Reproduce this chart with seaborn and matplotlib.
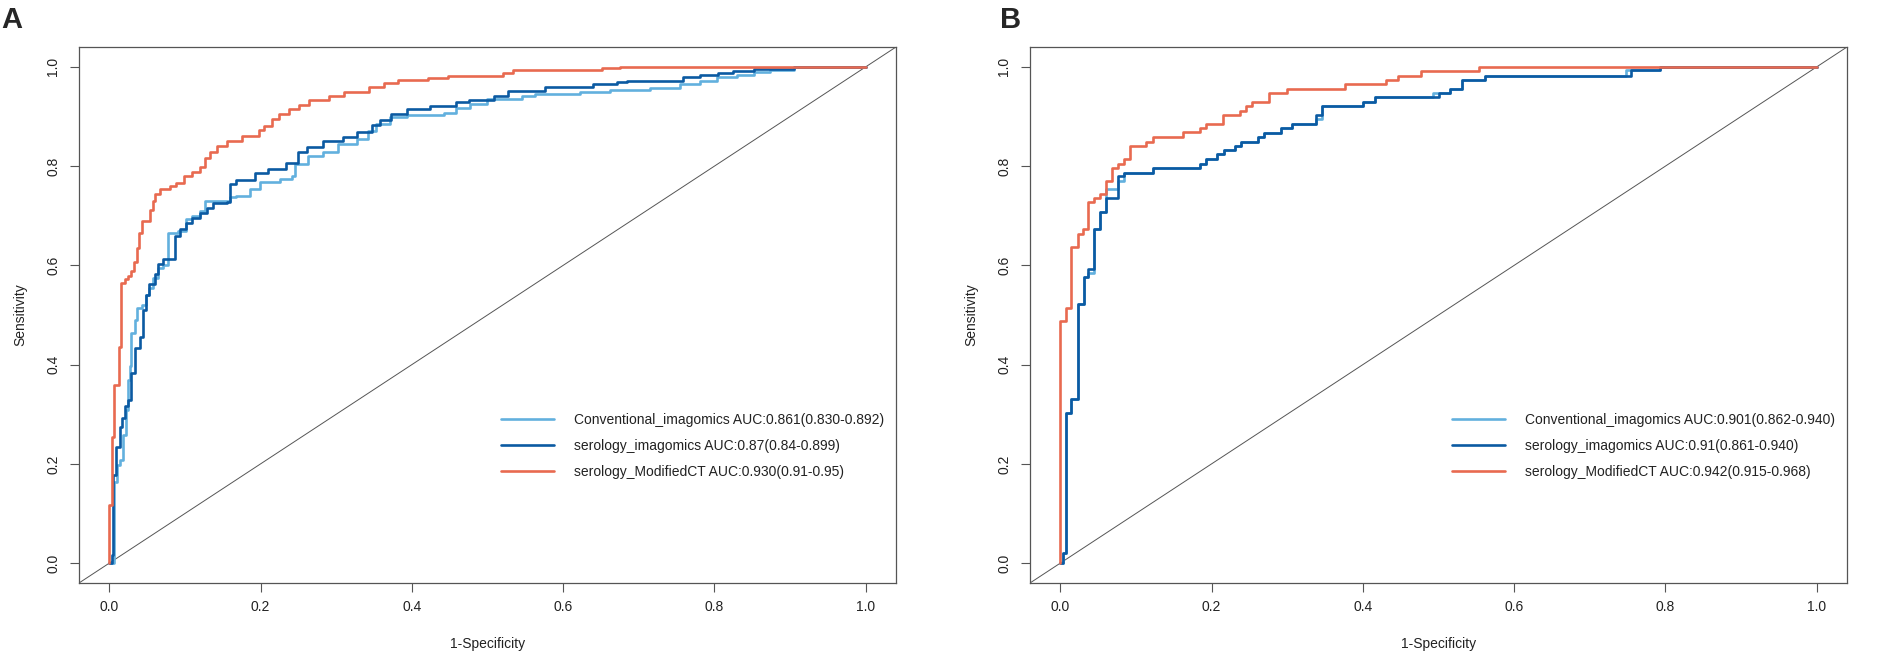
import numpy as np
import pandas as pd
import matplotlib
matplotlib.use("Agg")
import matplotlib.pyplot as plt
import seaborn as sns

# Series names and legend labels
series_names = ["Conventional_imagomics", "serology_imagomics", "serology_ModifiedCT"]
labels_a = ["Conventional_imagomics AUC:0.861(0.830-0.892)",
            "serology_imagomics AUC:0.87(0.84-0.899)",
            "serology_ModifiedCT AUC:0.930(0.91-0.95)"]
labels_b = ["Conventional_imagomics AUC:0.901(0.862-0.940)",
            "serology_imagomics AUC:0.91(0.861-0.940)",
            "serology_ModifiedCT AUC:0.942(0.915-0.968)"]

# Panel A - staircase vertices (1-specificity, sensitivity)
a_conv_fpr = [0, 0.006, 0.010, 0.014, 0.018, 0.022, 0.025, 0.027, 0.029, 0.034,
              0.037, 0.043, 0.048, 0.053, 0.058, 0.065, 0.071, 0.078, 0.091, 0.102,
              0.110, 0.120, 0.126, 0.159, 0.168, 0.186, 0.199, 0.226, 0.241, 0.245,
              0.263, 0.283, 0.303, 0.327, 0.342, 0.353, 0.371, 0.393, 0.442, 0.459,
              0.477, 0.499, 0.545, 0.563, 0.622, 0.662, 0.715, 0.755, 0.781, 0.803,
              0.830, 0.852, 0.874, 0.905, 1.0]
a_conv_tpr = [0, 0.164, 0.198, 0.208, 0.259, 0.309, 0.370, 0.397, 0.464, 0.490,
              0.514, 0.520, 0.540, 0.555, 0.575, 0.595, 0.600, 0.666, 0.670, 0.694,
              0.700, 0.710, 0.730, 0.737, 0.740, 0.754, 0.768, 0.774, 0.780, 0.804,
              0.821, 0.828, 0.844, 0.855, 0.871, 0.885, 0.898, 0.903, 0.908, 0.918,
              0.925, 0.935, 0.942, 0.945, 0.950, 0.953, 0.957, 0.966, 0.972, 0.979,
              0.984, 0.989, 0.993, 1.0, 1.0]

a_sero_fpr = [0, 0.003, 0.005, 0.009, 0.014, 0.017, 0.021, 0.025, 0.029, 0.034,
              0.040, 0.044, 0.048, 0.053, 0.060, 0.065, 0.071, 0.087, 0.093, 0.101,
              0.109, 0.120, 0.129, 0.137, 0.155, 0.159, 0.168, 0.192, 0.210, 0.234,
              0.250, 0.261, 0.283, 0.309, 0.327, 0.347, 0.358, 0.373, 0.393, 0.424,
              0.459, 0.475, 0.508, 0.527, 0.576, 0.640, 0.671, 0.684, 0.759, 0.781,
              0.805, 0.825, 0.852, 0.905, 1.0]
a_sero_tpr = [0, 0.016, 0.178, 0.235, 0.275, 0.293, 0.316, 0.329, 0.383, 0.434,
              0.455, 0.511, 0.541, 0.562, 0.582, 0.602, 0.612, 0.660, 0.673, 0.686,
              0.696, 0.706, 0.716, 0.725, 0.727, 0.764, 0.772, 0.786, 0.794, 0.807,
              0.828, 0.838, 0.851, 0.858, 0.868, 0.882, 0.892, 0.905, 0.915, 0.922,
              0.929, 0.934, 0.942, 0.952, 0.959, 0.966, 0.969, 0.972, 0.979, 0.984,
              0.987, 0.991, 0.995, 1.0, 1.0]

a_mod_fpr = [0, 0.0, 0.004, 0.006, 0.013, 0.016, 0.021, 0.025, 0.029, 0.033,
             0.037, 0.039, 0.043, 0.054, 0.058, 0.060, 0.067, 0.080, 0.088, 0.099,
             0.109, 0.120, 0.126, 0.133, 0.143, 0.156, 0.176, 0.198, 0.205, 0.215,
             0.225, 0.238, 0.251, 0.264, 0.290, 0.310, 0.343, 0.363, 0.382, 0.422,
             0.448, 0.520, 0.534, 0.652, 0.675, 1.0]
a_mod_tpr = [0, 0.118, 0.255, 0.358, 0.435, 0.564, 0.572, 0.579, 0.588, 0.607,
             0.635, 0.665, 0.690, 0.712, 0.730, 0.743, 0.754, 0.760, 0.766, 0.781,
             0.788, 0.799, 0.816, 0.829, 0.840, 0.850, 0.861, 0.872, 0.881, 0.894,
             0.904, 0.915, 0.924, 0.933, 0.941, 0.950, 0.959, 0.967, 0.973, 0.978,
             0.982, 0.987, 0.993, 0.997, 1.0, 1.0]

# Panel B
b_conv_fpr = [0, 0.003, 0.007, 0.014, 0.023, 0.031, 0.037, 0.045, 0.053, 0.061,
              0.076, 0.084, 0.123, 0.185, 0.192, 0.207, 0.216, 0.231, 0.239, 0.262,
              0.269, 0.292, 0.307, 0.338, 0.346, 0.400, 0.416, 0.493, 0.515, 0.531,
              0.561, 0.748, 0.793, 1.0]
b_conv_tpr = [0, 0.02, 0.302, 0.330, 0.523, 0.577, 0.585, 0.673, 0.708, 0.753,
              0.770, 0.787, 0.797, 0.805, 0.815, 0.824, 0.832, 0.841, 0.849, 0.858,
              0.867, 0.876, 0.884, 0.895, 0.921, 0.930, 0.939, 0.948, 0.956, 0.974,
              0.982, 0.993, 1.0, 1.0]

b_sero_fpr = [0, 0.003, 0.007, 0.014, 0.023, 0.031, 0.037, 0.045, 0.053, 0.061,
              0.076, 0.084, 0.123, 0.185, 0.192, 0.207, 0.216, 0.231, 0.239, 0.262,
              0.269, 0.292, 0.307, 0.338, 0.346, 0.400, 0.416, 0.500, 0.515, 0.531,
              0.561, 0.755, 0.793, 1.0]
b_sero_tpr = [0, 0.02, 0.302, 0.330, 0.523, 0.577, 0.593, 0.673, 0.708, 0.735,
              0.780, 0.787, 0.797, 0.805, 0.815, 0.824, 0.832, 0.841, 0.849, 0.858,
              0.867, 0.876, 0.884, 0.902, 0.921, 0.930, 0.939, 0.948, 0.956, 0.974,
              0.982, 0.993, 1.0, 1.0]

b_mod_fpr = [0, 0.0, 0.007, 0.014, 0.023, 0.030, 0.037, 0.044, 0.053, 0.061,
             0.068, 0.076, 0.084, 0.092, 0.114, 0.123, 0.162, 0.185, 0.193, 0.215,
             0.238, 0.246, 0.254, 0.276, 0.300, 0.376, 0.430, 0.446, 0.477, 0.554, 1.0]
b_mod_tpr = [0, 0.488, 0.515, 0.638, 0.663, 0.673, 0.727, 0.735, 0.744, 0.770,
             0.797, 0.805, 0.815, 0.841, 0.849, 0.858, 0.868, 0.876, 0.884, 0.902,
             0.911, 0.921, 0.930, 0.948, 0.955, 0.965, 0.974, 0.982, 0.992, 1.0, 1.0]

ticks = [0.0, 0.2, 0.4, 0.6, 0.8, 1.0]
colors = ["#62B0DE", "#0B5AA2", "#E86A50"]

sns.set_style("ticks")
plt.rcParams["font.family"] = ["Liberation Sans", "DejaVu Sans"]


def draw_panel(ax, curves, labels):
    for (fpr, tpr), lab, col in zip(curves, labels, colors):
        df = pd.DataFrame({"fpr": fpr, "tpr": tpr})
        sns.lineplot(data=df, x="fpr", y="tpr", ax=ax, estimator=None, sort=False,
                     drawstyle="steps-post", color=col, linewidth=1.9, label=lab)
    ax.axline((0, 0), (1, 1), color="#555555", linewidth=0.7, zorder=0)
    ax.set_xlim(-0.04, 1.04)
    ax.set_ylim(-0.04, 1.04)
    ax.set_xticks(ticks)
    ax.set_yticks(ticks)
    ax.set_xticklabels([f"{t:.1f}" for t in ticks])
    ax.set_yticklabels([f"{t:.1f}" for t in ticks], rotation=90, va="center")
    ax.tick_params(axis="both", direction="out", length=6.5, width=0.8,
                   color="#555555", labelsize=10, labelcolor="#222222")
    ax.tick_params(axis="x", pad=6)
    ax.tick_params(axis="y", pad=7)
    for sp in ax.spines.values():
        sp.set_color("#555555")
        sp.set_linewidth(0.9)
    ax.set_xlabel("1-Specificity", fontsize=10, color="#222222")
    ax.set_ylabel("Sensitivity", fontsize=10, color="#222222")
    ax.xaxis.set_label_coords(0.5, -0.114)
    ax.xaxis.label.set_va("center")
    ax.yaxis.set_label_coords(-0.072, 0.5)
    ax.yaxis.label.set_va("center")
    ax.legend(loc="center left", bbox_to_anchor=(0.517, 0.2556), frameon=False,
              fontsize=10, handlelength=3.8, handletextpad=1.45, labelspacing=0.85,
              borderpad=0, borderaxespad=0, labelcolor="#222222")


fig = plt.figure(figsize=(18.87, 6.71), dpi=100)
ax_a = fig.add_axes([79 / 1887, 88 / 671, 817 / 1887, 536 / 671])
ax_b = fig.add_axes([1030 / 1887, 88 / 671, 817 / 1887, 536 / 671])

draw_panel(ax_a, [(a_conv_fpr, a_conv_tpr), (a_sero_fpr, a_sero_tpr),
                  (a_mod_fpr, a_mod_tpr)], labels_a)
draw_panel(ax_b, [(b_conv_fpr, b_conv_tpr), (b_sero_fpr, b_sero_tpr),
                  (b_mod_fpr, b_mod_tpr)], labels_b)

fig.text(1 / 1887, 1 - 6 / 671, "A", fontsize=21, fontweight="bold", va="top", ha="left")
fig.text(1000 / 1887, 1 - 6 / 671, "B", fontsize=21, fontweight="bold", va="top", ha="left")

fig.savefig("out.png", dpi=100, facecolor="white")
